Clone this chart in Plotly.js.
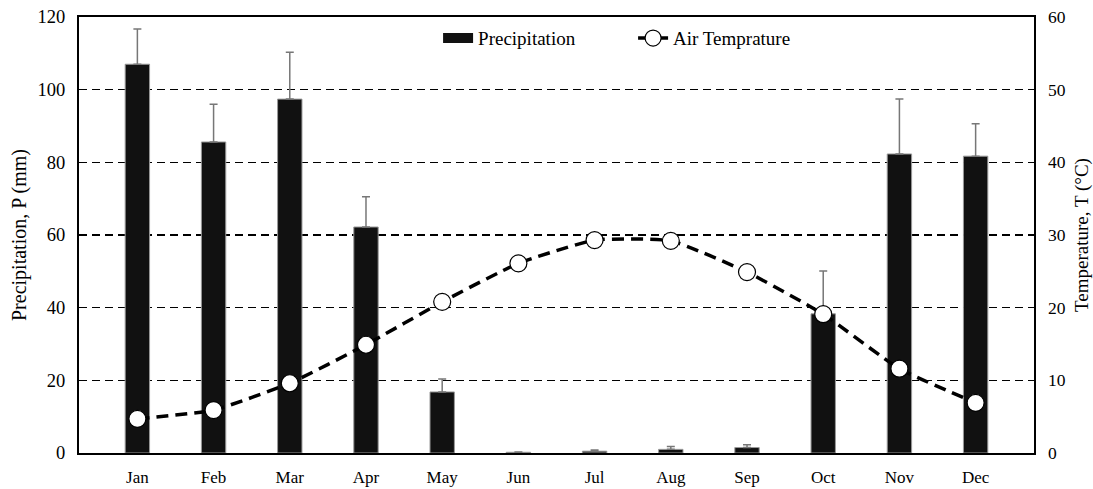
<!DOCTYPE html>
<html><head><meta charset="utf-8">
<script src="https://cdn.plot.ly/plotly-3.0.1.min.js"></script>
<style>html,body{margin:0;padding:0;background:#fff;}#chart{width:1093px;height:489px;}</style>
</head><body><div id="chart"></div>
<script>
const months = ["Jan","Feb","Mar","Apr","May","Jun","Jul","Aug","Sep","Oct","Nov","Dec"];
const precipitation = [107.0, 85.6, 97.4, 62.2, 16.8, 0.2, 0.5, 1.0, 1.5, 38.3, 82.3, 81.7];
const precipError = [9.7, 10.4, 12.9, 8.3, 3.6, 0.1, 0.3, 0.8, 0.8, 11.8, 15.1, 8.9];
const airTemperature = [4.7, 5.9, 9.6, 14.9, 20.8, 26.1, 29.3, 29.2, 24.9, 19.1, 11.6, 6.9];

const font = "Liberation Serif";
const data = [
  {
    type: "bar", x: months, y: precipitation, name: "Precipitation", showlegend: false,
    marker: {color: "#111111", line: {color: "#999999", width: 1}},
    width: 0.32,
    error_y: {type: "data", array: precipError, arrayminus: precipError.map(() => 0), symmetric: false,
              color: "#777777", thickness: 1.5, width: 4},
    yaxis: "y"
  },
  {
    type: "scatter", mode: "lines", x: [null], y: [null], name: "Precipitation",
    line: {color: "#111111", width: 10}, yaxis: "y", hoverinfo: "skip"
  },
  {
    type: "scatter", mode: "lines+markers", x: months, y: airTemperature, name: "Air Temprature",
    line: {color: "#000000", width: 3.5, dash: "12px,7px", shape: "spline", smoothing: 0.45},
    marker: {symbol: "circle", size: 17, color: "#ffffff", line: {color: "#000000", width: 1.2}},
    yaxis: "y2"
  }
];
const layout = {
  width: 1093, height: 489,
  margin: {l: 79, r: 59, t: 17, b: 36},
  paper_bgcolor: "#fff", plot_bgcolor: "#fff",
  font: {family: font, size: 16, color: "#000"},
  showlegend: true,
  legend: {orientation: "h", x: 0.376, xanchor: "left", y: 0.995, yanchor: "top",
           bgcolor: "rgba(0,0,0,0)", font: {family: font, size: 19}, tracegroupgap: 0,
           entrywidth: 150, entrywidthmode: "pixels"},
  bargap: 0.69,
  xaxis: {
    type: "category", showline: true, linecolor: "#000", linewidth: 2, mirror: true,
    ticks: "", showgrid: false, tickfont: {family: font, size: 17}, zeroline: false,
    ticklabelstandoff: 8, automargin: false
  },
  yaxis: {
    range: [0, 120], dtick: 20, showline: true, linecolor: "#000", linewidth: 2, mirror: true,
    ticks: "", showgrid: true, gridcolor: "#000", gridwidth: 1.3, griddash: "8px,5px",
    zeroline: false, tickfont: {family: font, size: 18.5}, ticklabelstandoff: 8, automargin: false,
    title: {text: "Precipitation, P (mm)", font: {family: font, size: 20}, standoff: 6}
  },
  yaxis2: {
    range: [0, 60], dtick: 10, overlaying: "y", side: "right", showgrid: false,
    ticks: "", showline: false, zeroline: false, tickfont: {family: font, size: 17.5},
    ticklabelstandoff: 13, automargin: false,
    title: {text: "Temperature, T (°C)", font: {family: font, size: 19}, standoff: 16}
  }
};
Plotly.newPlot("chart", data, layout, {displayModeBar: false, staticPlot: true});
</script></body></html>
